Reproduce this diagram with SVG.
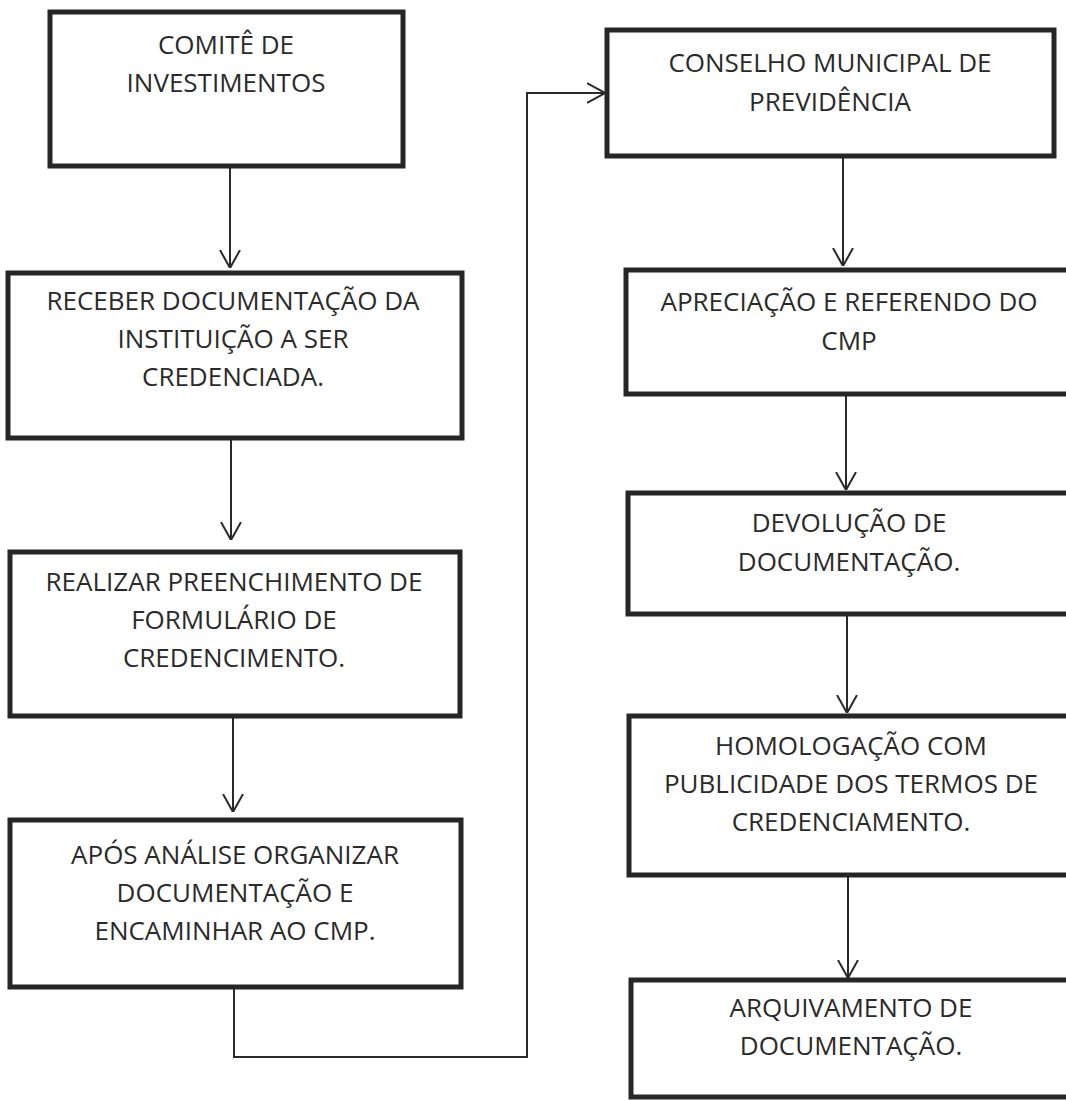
<svg xmlns="http://www.w3.org/2000/svg" width="1066" height="1100" viewBox="0 0 1066 1100">
  <style>
    .box { fill: #ffffff; stroke: #262626; stroke-width: 5; }
    .lbl { font-family: "Open Sans", "Liberation Sans", sans-serif; font-size: 26px; fill: #2a2a2a; text-anchor: middle; }
    .conn { fill: none; stroke: #2a2a2a; stroke-width: 2; }
  </style>
  <defs>
    <marker id="arrow" viewBox="0 0 18 22" refX="18" refY="11" markerWidth="18" markerHeight="22" markerUnits="userSpaceOnUse" orient="auto">
      <path d="M0,1 L18,11 L0,21" fill="none" stroke="#2a2a2a" stroke-width="2"/>
    </marker>
  </defs>
  <rect width="1066" height="1100" fill="#ffffff"/>

  <g id="connectors">
    <path class="conn" d="M230,166 V268" marker-end="url(#arrow)"/>
    <path class="conn" d="M231,438 V540" marker-end="url(#arrow)"/>
    <path class="conn" d="M233,716 V812" marker-end="url(#arrow)"/>
    <path class="conn" d="M234,987 V1057 H527 V93 H605" marker-end="url(#arrow)"/>
    <path class="conn" d="M843,156 V266" marker-end="url(#arrow)"/>
    <path class="conn" d="M846,386 V490" marker-end="url(#arrow)"/>
    <path class="conn" d="M847,614 V713" marker-end="url(#arrow)"/>
    <path class="conn" d="M848,875 V978" marker-end="url(#arrow)"/>
  </g>

  <g id="comite">
    <rect class="box" x="50" y="12" width="353" height="154"/>
    <text class="lbl" x="226" y="54">COMITÊ DE</text>
    <text class="lbl" x="226" y="92">INVESTIMENTOS</text>
  </g>

  <g id="receber">
    <rect class="box" x="8" y="273" width="454" height="165"/>
    <text class="lbl" x="233" y="310">RECEBER DOCUMENTAÇÃO DA</text>
    <text class="lbl" x="233" y="348">INSTITUIÇÃO A SER</text>
    <text class="lbl" x="233" y="386">CREDENCIADA.</text>
  </g>

  <g id="realizar">
    <rect class="box" x="10" y="552" width="450" height="164"/>
    <text class="lbl" x="234" y="591">REALIZAR PREENCHIMENTO DE</text>
    <text class="lbl" x="234" y="629">FORMULÁRIO DE</text>
    <text class="lbl" x="234" y="667">CREDENCIMENTO.</text>
  </g>

  <g id="apos">
    <rect class="box" x="10" y="820" width="451" height="167"/>
    <text class="lbl" x="235" y="864">APÓS ANÁLISE ORGANIZAR</text>
    <text class="lbl" x="235" y="902">DOCUMENTAÇÃO E</text>
    <text class="lbl" x="235" y="940">ENCAMINHAR AO CMP.</text>
  </g>

  <g id="conselho">
    <rect class="box" x="607" y="30" width="447" height="126"/>
    <text class="lbl" x="830" y="72">CONSELHO MUNICIPAL DE</text>
    <text class="lbl" x="830" y="111">PREVIDÊNCIA</text>
  </g>

  <g id="apreciacao">
    <rect class="box" x="626" y="270" width="450" height="124"/>
    <text class="lbl" x="849" y="311">APRECIAÇÃO E REFERENDO DO</text>
    <text class="lbl" x="849" y="350">CMP</text>
  </g>

  <g id="devolucao">
    <rect class="box" x="628" y="493" width="450" height="121"/>
    <text class="lbl" x="849" y="532">DEVOLUÇÃO DE</text>
    <text class="lbl" x="849" y="571">DOCUMENTAÇÃO.</text>
  </g>

  <g id="homologacao">
    <rect class="box" x="629" y="716" width="450" height="159"/>
    <text class="lbl" x="851" y="755">HOMOLOGAÇÃO COM</text>
    <text class="lbl" x="851" y="793">PUBLICIDADE DOS TERMOS DE</text>
    <text class="lbl" x="851" y="831">CREDENCIAMENTO.</text>
  </g>

  <g id="arquivamento">
    <rect class="box" x="631" y="980" width="450" height="117"/>
    <text class="lbl" x="851" y="1017">ARQUIVAMENTO DE</text>
    <text class="lbl" x="851" y="1055">DOCUMENTAÇÃO.</text>
  </g>
</svg>
